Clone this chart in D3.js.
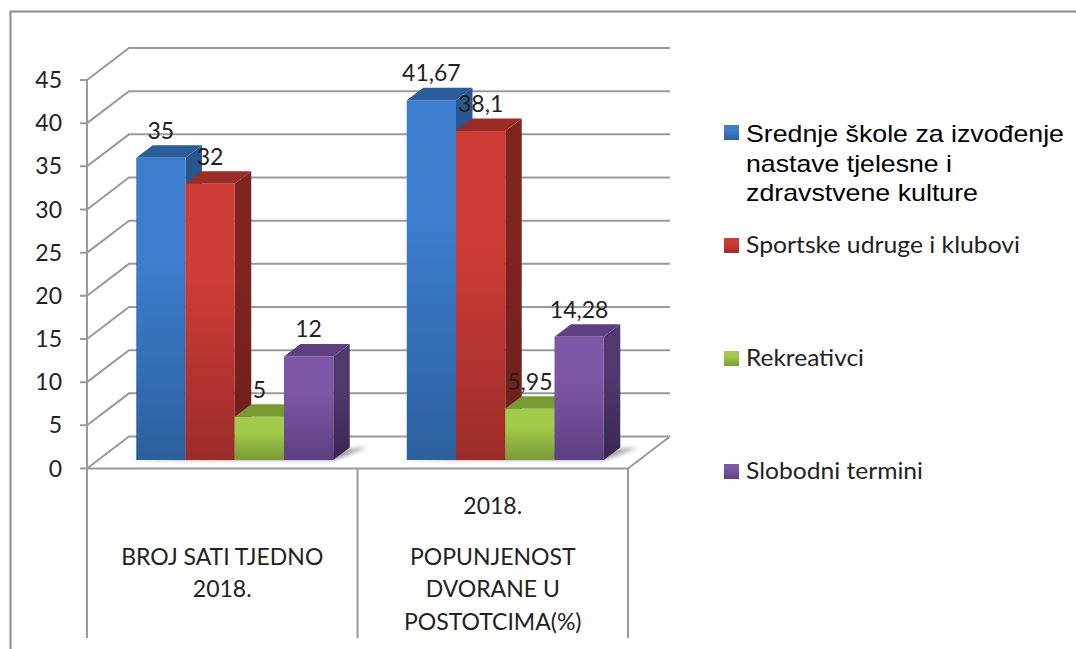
<!DOCTYPE html>
<html>
<head>
<meta charset="utf-8">
<script src="https://cdn.jsdelivr.net/npm/d3@7"></script>
<style>
  html, body { margin: 0; padding: 0; background: #fff; }
  svg { display: block; }
  text { font-family: Lato, "Noto Sans", sans-serif; fill: #222; }
</style>
</head>
<body>
<div id="chart"></div>
<script>
const categories = ["BROJ SATI TJEDNO 2018.", "2018. POPUNJENOST DVORANE U POSTOTCIMA(%)"]
const categoryLines = [
	["BROJ SATI TJEDNO", "2018."],
	["2018.", "POPUNJENOST", "DVORANE U", "POSTOTCIMA(%)"]
]
const seriesNames = ["Srednje škole", "Sportske udruge", "Rekreativci", "Slobodni termini"]
const legendLines = [
	["Srednje škole za izvođenje", "nastave tjelesne i", "zdravstvene kulture"],
	["Sportske udruge i klubovi"],
	["Rekreativci"],
	["Slobodni termini"]
]
const srednje = [35, 41.67]
const sportske = [32, 38.1]
const rekreativci = [5, 5.95]
const slobodni = [12, 14.28]
const labels = [["35", "41,67"], ["32", "38,1"], ["5", "5,95"], ["12", "14,28"]]
const ticks = [0, 5, 10, 15, 20, 25, 30, 35, 40, 45]
const values = [srednje, sportske, rekreativci, slobodni]

const colors = [
	{ top: "#2c5c9a", side: ["#2a568f", "#234a7a"], face: ["#3d7dcd", "#2b609f"] },
	{ top: "#9b2c28", side: ["#802420", "#6c1e1b"], face: ["#cd3c37", "#9c2c29"] },
	{ top: "#789a34", side: ["#6a8a2c", "#5f7c28"], face: ["#a2cb4b", "#7a9a35"] },
	{ top: "#5e3f80", side: ["#51396f", "#3a2550"], face: ["#7d57a6", "#5e3f80"] }
]

const width = 1076, height = 649
const svg = d3.select("#chart").append("svg").attr("width", width).attr("height", height)
const defs = svg.append("defs")

function gradient(id, stops) {
	let g = defs.append("linearGradient").attr("id", id).attr("x1", 0).attr("y1", 0).attr("x2", 0).attr("y2", 1)
	g.append("stop").attr("offset", "35%").attr("stop-color", stops[0])
	g.append("stop").attr("offset", "100%").attr("stop-color", stops[1])
}
colors.forEach((c, i) => {
	gradient("face" + i, c.face)
	gradient("side" + i, c.side)
})
defs.append("filter").attr("id", "soft").attr("x", "-20%").attr("y", "-50%").attr("width", "140%").attr("height", "200%")
	.append("feGaussianBlur").attr("stdDeviation", 2)

const y = d3.scaleLinear().domain([0, 45]).range([468.5, 80])
const x = d3.scaleBand().domain(categories).range([87, 628])
const inner = d3.scaleBand().domain(seriesNames).range([-98.5, 98.5])

// 3d offsets
const wall = { dx: 42, dy: -32 }
const depth = { dx: 16.5, dy: -12.5 }
const barShift = { dx: 12.5, dy: -8.5 }
const grid = "#9a9a9a"

// outer frame
svg.append("path").attr("d", "M10.5,649V11.5H1076").attr("fill", "none").attr("stroke", "#8c8c8c").attr("stroke-width", 2)

// walls
const walls = svg.append("g").attr("fill", "none").attr("stroke", grid).attr("stroke-width", 2)
ticks.forEach(t => {
	walls.append("path").attr("d", d3.line()([[80, y(t)], [87, y(t)], [87 + wall.dx, y(t) + wall.dy], [670, y(t) + wall.dy]]))
})
walls.append("line").attr("x1", 87).attr("x2", 87).attr("y1", y(45)).attr("y2", y(0))
walls.append("path").attr("d", d3.line()([[628, y(0)], [670, y(0) + wall.dy]]))
walls.append("line").attr("x1", 87).attr("x2", 628).attr("y1", y(0)).attr("y2", y(0))
x.domain().concat(["end"]).forEach(c => {
	let px = c == "end" ? x.range()[1] : x(c)
	walls.append("line").attr("x1", px).attr("x2", px).attr("y1", y(0)).attr("y2", 638)
})

// axis labels
svg.append("g").selectAll("text").data(ticks).enter().append("text")
	.attr("x", 62).attr("y", d => y(d) + 8)
	.attr("text-anchor", "end").attr("font-size", 23)
	.text(d => d)

// bars
categories.forEach((cat, ci) => {
	let cx = x(cat) + x.bandwidth() / 2 + barShift.dx
	let base = y(0) + barShift.dy
	let l = cx + inner.range()[0], r = cx + inner.range()[1]
	svg.append("path")
		.attr("d", d3.line()([[l - 8, base], [r, base], [r + depth.dx + 18, base + depth.dy], [r + 10, base + depth.dy + 2]]))
		.attr("fill", "#555").attr("opacity", 0.6).attr("filter", "url(#soft)")
	seriesNames.forEach((s, si) => {
		let v = values[si][ci]
		let x0 = cx + inner(s), w = inner.bandwidth(), top = y(v) + barShift.dy
		let g = svg.append("g").attr("class", "bar")
		// side first so the next bar covers it
		g.append("path")
			.attr("d", d3.line()([[x0 + w, top], [x0 + w + depth.dx, top + depth.dy], [x0 + w + depth.dx, base + depth.dy], [x0 + w, base]]))
			.attr("fill", `url(#side${si})`)
		g.append("path")
			.attr("d", d3.line()([[x0, top], [x0 + depth.dx, top + depth.dy], [x0 + w + depth.dx, top + depth.dy], [x0 + w, top]]))
			.attr("fill", colors[si].top)
		g.append("rect").attr("x", x0).attr("y", top).attr("width", w).attr("height", base - top)
			.attr("fill", `url(#face${si})`)
	})
	seriesNames.forEach((s, si) => {
		let v = values[si][ci]
		svg.append("text").attr("x", cx + inner(s) + inner.bandwidth() / 2).attr("y", y(v) + barShift.dy - 19)
			.attr("text-anchor", "middle").attr("font-size", 23).text(labels[si][ci])
	})
})

// category labels
const categoryY = [[565, 597], [514, 565, 597, 630]]
categoryLines.forEach((lines, ci) => {
	let mid = x(categories[ci]) + x.bandwidth() / 2
	lines.forEach((d, i) => {
		svg.append("text").attr("x", mid).attr("y", categoryY[ci][i]).attr("text-anchor", "middle").attr("font-size", 23).text(d)
	})
})

// legend, stretched a bit wider than the font because the original is
const legendBoxY = [125, 238, 351, 464]
const legendTextY = [[142, 172, 201], [253], [366], [479]]
const legendWidths = [[318, 206, 232], [274], [118], [177]]
legendLines.forEach((lines, i) => {
	svg.append("rect").attr("x", 724).attr("y", legendBoxY[i]).attr("width", 15).attr("height", 15).attr("fill", `url(#face${i})`)
	lines.forEach((l, j) => {
		let t = svg.append("text").attr("x", 746).attr("y", legendTextY[i][j])
			.attr("font-size", i == 0 ? 24 : 23)
			.attr("textLength", legendWidths[i][j]).attr("lengthAdjust", "spacingAndGlyphs")
			.text(l)
		if (i == 0) t.style("font-family", "'Liberation Sans'").style("fill", "#000")
	})
})
</script>
</body>
</html>
